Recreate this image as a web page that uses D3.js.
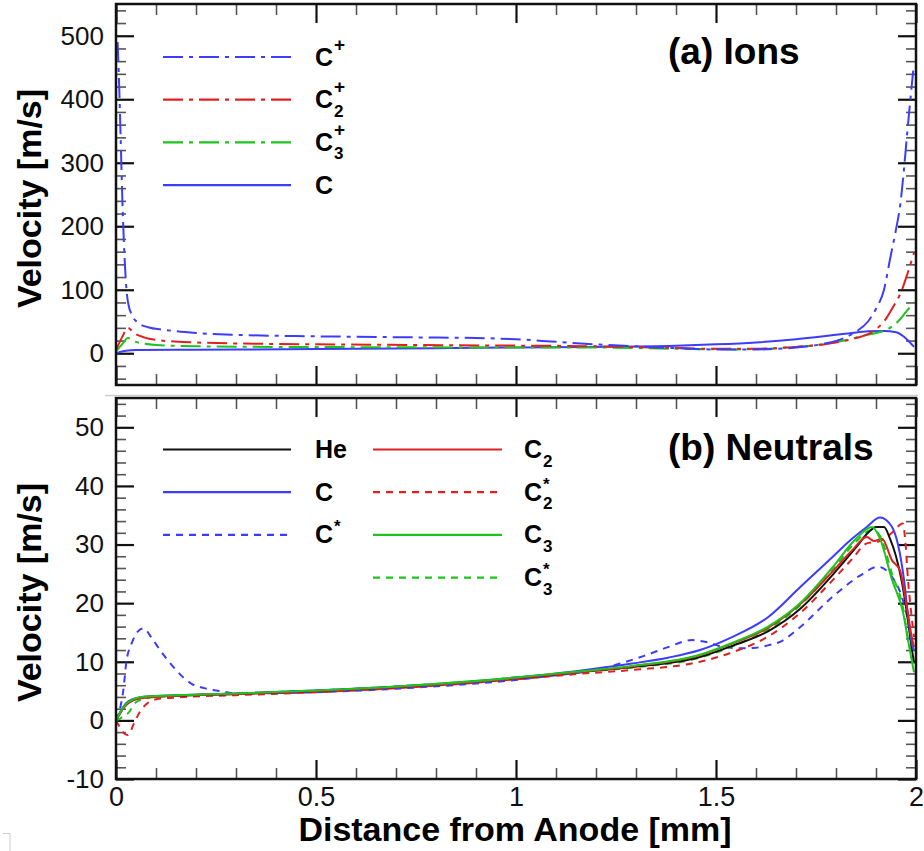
<!DOCTYPE html>
<html><head><meta charset="utf-8">
<script src="https://cdn.jsdelivr.net/npm/d3@7"></script>
<style>
body{margin:0;background:#fff}
svg{display:block}
text{font-family:"Liberation Sans",Arial,Helvetica,sans-serif}
</style></head><body>
<svg id="chart" width="924" height="851"></svg>
<script>
// ---- axis ticks and labels ----
const xMajorTicks = [0, 0.5, 1, 1.5, 2];
const xTickLabels = ["0", "0.5", "1", "1.5", "2"];
const ionTicks = [0, 100, 200, 300, 400, 500];
const ionTickLabels = ["0", "100", "200", "300", "400", "500"];
const neutralTicks = [-10, 0, 10, 20, 30, 40, 50];
const neutralTickLabels = ["-10", "0", "10", "20", "30", "40", "50"];

// ---- (a) ions: [distance mm, velocity m/s] ----
const ionCplus = [[0.004,490],[0.008,420],[0.012,330],[0.016,240],[0.02,170],[0.025,110],[0.03,80],[0.04,60],[0.055,48],[0.08,41],[0.12,37],[0.2,32],[0.3,29],[0.45,27],[0.6,26],[0.75,25],[0.9,24],[1.0,22],[1.1,18],[1.2,14],[1.3,11],[1.4,8],[1.5,6],[1.6,6],[1.7,9],[1.77,15],[1.82,24],[1.85,34],[1.88,50],[1.9,70],[1.92,100],[1.935,148],[1.95,195],[1.96,231],[1.97,290],[1.978,347],[1.986,400],[1.993,445]];
const ionC2plus = [[0,5],[0.015,25],[0.03,40],[0.045,32],[0.07,25],[0.1,21],[0.2,17],[0.35,15],[0.5,14],[0.75,13],[1.0,12],[1.2,11],[1.35,9],[1.5,7],[1.6,7],[1.7,10],[1.78,15],[1.85,24],[1.88,30],[1.9,38],[1.92,50],[1.94,70],[1.965,100],[1.98,128],[1.995,158]];
const ionC3plus = [[0,3],[0.015,14],[0.03,24],[0.045,19],[0.07,15],[0.1,13],[0.2,11],[0.4,10],[0.7,9.5],[1.0,9],[1.2,9],[1.4,7],[1.55,6],[1.65,8],[1.75,13],[1.82,20],[1.87,28],[1.9,32],[1.93,38],[1.955,50],[1.975,65],[1.995,80]];
const ionC = [[0,0],[0.01,2],[0.025,4],[0.05,5],[0.2,5.5],[0.5,6.5],[0.8,8],[1.0,9],[1.2,10],[1.4,12],[1.5,14],[1.6,17],[1.7,22],[1.8,29],[1.84,32],[1.88,34.5],[1.92,35],[1.95,33],[1.97,26],[1.985,17],[1.995,10]];

// ---- (b) neutrals: [distance mm, velocity m/s] ----
const neuHe = [[0,0],[0.01,1.2],[0.02,2.3],[0.03,3],[0.05,3.7],[0.08,4],[0.15,4.2],[0.3,4.5],[0.5,5],[0.75,5.9],[1.0,7.2],[1.15,8.2],[1.29,9.1],[1.46,10.8],[1.54,12.7],[1.63,15.2],[1.71,19],[1.79,24.7],[1.85,29.5],[1.88,32],[1.9,33],[1.92,33],[1.935,31],[1.95,28],[1.965,23.5],[1.98,17],[1.99,12],[1.995,10]];
const neuC = [[0,0],[0.01,1.4],[0.02,2.5],[0.03,3.2],[0.05,3.8],[0.08,4.1],[0.15,4.3],[0.3,4.6],[0.5,5.1],[0.75,6],[1.0,7.3],[1.15,8.4],[1.29,9.7],[1.38,10.7],[1.46,12.0],[1.54,14.2],[1.63,17.6],[1.71,22.7],[1.79,27.8],[1.84,31],[1.877,33],[1.91,34.6],[1.94,33],[1.955,30],[1.97,24],[1.98,18],[1.99,13],[1.995,12]];
const neuCstar = [[0,0],[0.01,2],[0.018,5],[0.026,10],[0.04,13.3],[0.055,15.2],[0.068,15.7],[0.09,14],[0.11,12],[0.13,10.2],[0.15,8.6],[0.17,7.2],[0.19,6.2],[0.22,5.5],[0.26,5],[0.3,4.6],[0.5,4.8],[0.75,5.6],[0.9,6.3],[1.0,6.9],[1.1,7.7],[1.2,8.6],[1.26,9.7],[1.32,11],[1.38,12.5],[1.44,13.7],[1.48,13.3],[1.52,12.5],[1.57,12.3],[1.6,12.4],[1.63,12.8],[1.66,13.4],[1.71,15.9],[1.79,21],[1.86,24.7],[1.905,26.2],[1.94,24.5],[1.965,21],[1.98,17],[1.99,13]];
const neuC2 = [[0,0],[0.01,1.2],[0.02,2.2],[0.03,2.9],[0.05,3.6],[0.08,3.9],[0.15,4.2],[0.3,4.5],[0.5,5],[0.75,5.9],[1.0,7.2],[1.15,8.2],[1.29,9.2],[1.46,11.1],[1.54,13.1],[1.63,15.8],[1.71,19.8],[1.79,25.3],[1.84,29],[1.877,31.3],[1.895,30.6],[1.915,31],[1.94,27.3],[1.96,25.6],[1.977,19.3],[1.99,14],[1.995,12.5]];
const neuC2star = [[0,0],[0.01,-1.2],[0.02,-2.2],[0.03,-2.5],[0.045,-0.5],[0.06,1.5],[0.08,3],[0.1,3.6],[0.15,3.9],[0.3,4.3],[0.5,4.8],[0.75,5.7],[1.0,7.0],[1.15,7.9],[1.29,8.6],[1.46,10],[1.54,11.6],[1.63,14.3],[1.71,18.3],[1.79,23.8],[1.84,27.5],[1.877,30.2],[1.91,30.6],[1.94,32],[1.967,33.6],[1.974,30],[1.98,24],[1.987,19],[1.995,14.2]];
const neuC3 = [[0,0],[0.01,1.3],[0.02,2.4],[0.03,3.1],[0.05,3.8],[0.08,4.1],[0.15,4.3],[0.3,4.6],[0.5,5.1],[0.75,6],[1.0,7.3],[1.15,8.3],[1.29,9.3],[1.46,11.2],[1.54,13.2],[1.63,16],[1.71,20],[1.79,26],[1.85,31],[1.89,33],[1.91,31],[1.94,24],[1.968,18.3],[1.98,13.7],[1.995,8.2]];
const neuC3star = [[0,0],[0.01,0.3],[0.02,0.8],[0.03,1.2],[0.05,3.1],[0.08,3.8],[0.15,4.2],[0.3,4.6],[0.5,5.1],[0.75,6],[1.0,7.3],[1.15,8.2],[1.29,9],[1.46,10.7],[1.54,12.6],[1.63,15.5],[1.71,19.6],[1.79,25.5],[1.85,30.5],[1.89,32.5],[1.91,31.5],[1.94,25],[1.968,19],[1.98,14],[1.995,9]];

// ---- styling ----
const BLUE = "#3c3cff", RED = "#e02020", GREEN = "#1cc41c", BLACK = "#111";
const DASHDOT = "20,6,4,6", DASHED = "7,6";
const FONT = '"Liberation Sans",Arial,Helvetica,sans-serif';

const svg = d3.select("#chart");
svg.append("rect").attr("width", 924).attr("height", 851).attr("fill", "#fff");

const X0 = 116, X1 = 916;
const x = d3.scaleLinear().domain([0, 2]).range([X0, X1]);
const xMinorTicks = d3.range(1, 20).map(i => i / 10);

const panels = [
  {
    id: "ions", top: 4, bottom: 385, domain: [-50, 550],
    ticks: ionTicks, labels: ionTickLabels,
    minor: d3.range(-40, 550, 20),
    title: "(a) Ions", titleY: 64, xLabels: false,
    series: [
      { data: ionC, color: BLUE, dash: null },
      { data: ionC3plus, color: GREEN, dash: DASHDOT },
      { data: ionC2plus, color: RED, dash: DASHDOT },
      { data: ionCplus, color: BLUE, dash: DASHDOT }
    ],
    legend: [
      { col: 0, row: 0, color: BLUE, dash: DASHDOT, base: "C", sup: "+", sub: null },
      { col: 0, row: 1, color: RED, dash: DASHDOT, base: "C", sup: "+", sub: "2" },
      { col: 0, row: 2, color: GREEN, dash: DASHDOT, base: "C", sup: "+", sub: "3" },
      { col: 0, row: 3, color: BLUE, dash: null, base: "C", sup: null, sub: null }
    ],
    legendY: 57
  },
  {
    id: "neutrals", top: 398, bottom: 779, domain: [-10, 55],
    ticks: neutralTicks, labels: neutralTickLabels,
    minor: d3.range(-8, 55, 2),
    title: "(b) Neutrals", titleY: 460, xLabels: true,
    series: [
      { data: neuCstar, color: BLUE, dash: DASHED },
      { data: neuC2star, color: RED, dash: DASHED },
      { data: neuC3star, color: GREEN, dash: DASHED },
      { data: neuHe, color: BLACK, dash: null },
      { data: neuC, color: BLUE, dash: null },
      { data: neuC2, color: RED, dash: null },
      { data: neuC3, color: GREEN, dash: null }
    ],
    legend: [
      { col: 0, row: 0, color: BLACK, dash: null, base: "He", sup: null, sub: null },
      { col: 0, row: 1, color: BLUE, dash: null, base: "C", sup: null, sub: null },
      { col: 0, row: 2, color: BLUE, dash: DASHED, base: "C", sup: "*", sub: null },
      { col: 1, row: 0, color: RED, dash: null, base: "C", sup: null, sub: "2" },
      { col: 1, row: 1, color: RED, dash: DASHED, base: "C", sup: "*", sub: "2" },
      { col: 1, row: 2, color: GREEN, dash: null, base: "C", sup: null, sub: "3" },
      { col: 1, row: 3, color: GREEN, dash: DASHED, base: "C", sup: "*", sub: "3" }
    ],
    legendY: 449.5
  }
];

const legendCols = [{ x1: 163, x2: 291, tx: 315 }, { x1: 373, x2: 502, tx: 524 }];
const ROW = 42.7;

function styleAxis(sel, width, color) {
  sel.select(".domain").remove();
  sel.selectAll(".tick line").attr("stroke", color).attr("stroke-width", width);
}

panels.forEach(p => {
  const y = d3.scaleLinear().domain(p.domain).range([p.bottom, p.top]);
  const g = svg.append("g").attr("class", p.id);

  // clip region for the curves
  const clipId = "clip-" + p.id;
  svg.append("defs").append("clipPath").attr("id", clipId)
    .append("rect").attr("x", X0).attr("y", p.top).attr("width", X1 - X0).attr("height", p.bottom - p.top);

  // minor ticks on all four sides
  const minorColor = "#555";
  g.append("g").attr("transform", `translate(${X0},0)`)
    .call(d3.axisLeft(y).tickValues(p.minor.filter(v => !p.ticks.includes(v))).tickSize(-10).tickFormat(""))
    .call(s => styleAxis(s, 1.6, minorColor));
  g.append("g").attr("transform", `translate(${X1},0)`)
    .call(d3.axisRight(y).tickValues(p.minor.filter(v => !p.ticks.includes(v))).tickSize(-10).tickFormat(""))
    .call(s => styleAxis(s, 1.6, minorColor));
  g.append("g").attr("transform", `translate(0,${p.top})`)
    .call(d3.axisTop(x).tickValues(xMinorTicks.filter(v => !xMajorTicks.includes(v))).tickSize(-11).tickFormat(""))
    .call(s => styleAxis(s, 1.6, minorColor));
  g.append("g").attr("transform", `translate(0,${p.bottom})`)
    .call(d3.axisBottom(x).tickValues(xMinorTicks.filter(v => !xMajorTicks.includes(v))).tickSize(-11).tickFormat(""))
    .call(s => styleAxis(s, 1.6, minorColor));

  // major ticks
  const left = g.append("g").attr("transform", `translate(${X0},0)`)
    .call(d3.axisLeft(y).tickValues(p.ticks).tickSize(-18).tickPadding(12)
      .tickFormat((d, i) => p.labels[i]))
    .call(s => styleAxis(s, 2.2, "#111"));
  left.selectAll(".tick text").attr("font-size", 26).attr("font-family", FONT).attr("fill", "#111");

  g.append("g").attr("transform", `translate(${X1},0)`)
    .call(d3.axisRight(y).tickValues(p.ticks).tickSize(-18).tickFormat(""))
    .call(s => styleAxis(s, 2.2, "#111"));
  g.append("g").attr("transform", `translate(0,${p.top})`)
    .call(d3.axisTop(x).tickValues(xMajorTicks).tickSize(-19).tickFormat(""))
    .call(s => styleAxis(s, 2.2, "#111"));
  const bottomAxis = g.append("g").attr("transform", `translate(0,${p.bottom})`)
    .call(d3.axisBottom(x).tickValues(xMajorTicks).tickSize(-19).tickPadding(8)
      .tickFormat((d, i) => p.xLabels ? xTickLabels[i] : ""))
    .call(s => styleAxis(s, 2.2, "#111"));
  bottomAxis.selectAll(".tick text").attr("font-size", 27).attr("font-family", FONT).attr("fill", "#111");

  // curves
  const line = d3.line().x(d => x(d[0])).y(d => y(d[1])).curve(d3.curveMonotoneX);
  const curves = g.append("g").attr("clip-path", `url(#${clipId})`);
  p.series.forEach(s => {
    curves.append("path").datum(s.data)
      .attr("d", line)
      .attr("fill", "none")
      .attr("stroke", s.color)
      .attr("stroke-width", 2)
      .attr("stroke-dasharray", s.dash)
      .attr("stroke-linejoin", "round");
  });

  // frame
  g.append("rect").attr("x", X0).attr("y", p.top).attr("width", X1 - X0).attr("height", p.bottom - p.top)
    .attr("fill", "none").attr("stroke", "#111").attr("stroke-width", 2.5);

  // panel title
  g.append("text").attr("x", 668).attr("y", p.titleY)
    .attr("font-size", 37).attr("font-weight", "bold").attr("fill", "#000").text(p.title);

  // y-axis title
  g.append("text")
    .attr("transform", `translate(41,${(p.top + p.bottom) / 2 + 4}) rotate(-90)`)
    .attr("text-anchor", "middle").attr("font-size", 34).attr("font-weight", "bold")
    .attr("fill", "#000").text("Velocity [m/s]");

  // legend
  p.legend.forEach(item => {
    const c = legendCols[item.col];
    const ly = p.legendY + item.row * ROW;
    g.append("line").attr("x1", c.x1).attr("x2", c.x2).attr("y1", ly).attr("y2", ly)
      .attr("stroke", item.color).attr("stroke-width", 2.2).attr("stroke-dasharray", item.dash);
    const base = ly + 8.5;
    const t = g.append("text").attr("x", c.tx).attr("y", base)
      .attr("font-size", 25).attr("font-weight", "bold").attr("fill", "#000").text(item.base);
    const w = t.node().getComputedTextLength();
    if (item.sup) {
      g.append("text").attr("x", c.tx + w + 1).attr("y", item.sup === "+" ? base - 15 : base - 11)
        .attr("font-size", item.sup === "+" ? 19 : 17).attr("font-weight", "bold").attr("fill", "#000").text(item.sup);
    }
    if (item.sub) {
      g.append("text").attr("x", c.tx + w + 1).attr("y", base + 8.5)
        .attr("font-size", 17).attr("font-weight", "bold").attr("fill", "#000").text(item.sub);
    }
  });
});

// x-axis title
svg.append("text").attr("x", 515).attr("y", 841).attr("text-anchor", "middle")
  .attr("font-size", 34).attr("font-weight", "bold").attr("fill", "#000")
  .text("Distance from Anode [mm]");

// faint edge lines around the lower panel
svg.append("line").attr("x1", 105).attr("x2", 918).attr("y1", 395.5).attr("y2", 395.5)
  .attr("stroke", "#ccc").attr("stroke-width", 1.5);
svg.append("path").attr("d", "M3,833.5H10V851").attr("fill", "none").attr("stroke", "#ccc").attr("stroke-width", 1);
</script></body></html>
